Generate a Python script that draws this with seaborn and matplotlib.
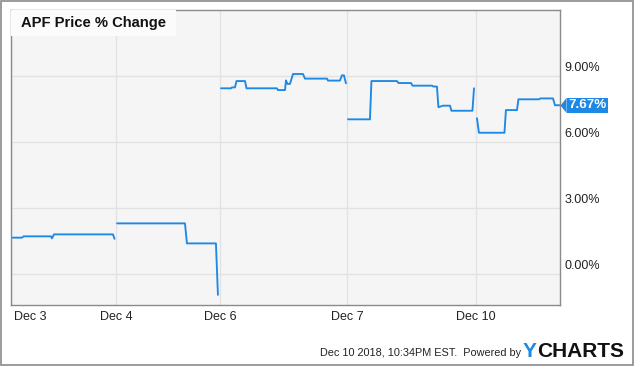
import numpy as np
import pandas as pd
import matplotlib.pyplot as plt
import seaborn as sns
from matplotlib.patches import Rectangle
from matplotlib.transforms import ScaledTranslation

# ── data: x in trading-session units (0 = Dec 3 open), y in % change ──
dec3_x = [0.000, 0.105, 0.119, 0.381, 0.390, 0.410, 0.971, 0.986]
dec3_y = [1.65, 1.65, 1.71, 1.71, 1.62, 1.80, 1.80, 1.60]

dec4_x = [1.010, 1.657, 1.676, 1.952, 1.971]
dec4_y = [2.30, 2.30, 1.39, 1.39, -0.95]

dec6_x = [2.000, 2.095, 2.105, 2.133, 2.148, 2.229, 2.243, 2.533, 2.543, 2.610,
          2.619, 2.633, 2.657, 2.686, 2.781, 2.800, 3.010, 3.019, 3.133, 3.152,
          3.171, 3.190]
dec6_y = [8.44, 8.44, 8.48, 8.48, 8.77, 8.77, 8.44, 8.44, 8.36, 8.36,
          8.80, 8.64, 8.64, 9.09, 9.09, 8.88, 8.88, 8.79, 8.79, 9.03,
          9.03, 8.67]

dec7_x = [3.210, 3.419, 3.433, 3.676, 3.690, 3.810, 3.824, 4.010, 4.024, 4.057,
          4.071, 4.114, 4.181, 4.195, 4.395, 4.410]
dec7_y = [7.03, 7.03, 8.77, 8.77, 8.68, 8.68, 8.56, 8.56, 8.52, 8.52,
          7.58, 7.65, 7.65, 7.42, 7.42, 8.44]

dec10_x = [4.438, 4.457, 4.700, 4.714, 4.819, 4.833, 5.029, 5.043, 5.162, 5.181, 5.229]
dec10_y = [7.08, 6.42, 6.42, 7.45, 7.45, 7.94, 7.94, 7.98, 7.98, 7.67, 7.67]

tick_pos = [0.0, 1.0, 1.99, 3.2, 4.429]
tick_labels = ["Dec 3", "Dec 4", "Dec 6", "Dec 7", "Dec 10"]
y_ticks = [0, 3, 6, 9]

sessions = [("Dec 3", dec3_x, dec3_y), ("Dec 4", dec4_x, dec4_y),
            ("Dec 6", dec6_x, dec6_y), ("Dec 7", dec7_x, dec7_y),
            ("Dec 10", dec10_x, dec10_y)]
df = pd.concat([pd.DataFrame({"session": s, "x": xs, "pct": ys})
                for s, xs, ys in sessions], ignore_index=True)

blue = "#1e88e5"

sns.set_style("white")
plt.rcParams["font.family"] = ["Liberation Sans", "DejaVu Sans"]

fig = plt.figure(figsize=(6.35, 3.66), dpi=100)
ax = fig.add_axes([0.0173, 0.1667, 0.8646, 0.806])
ax.set_facecolor("#f5f5f5")

sns.lineplot(data=df, x="x", y="pct", units="session", estimator=None,
             sort=False, color=blue, linewidth=1.35, ax=ax)

ax.set_xlim(0, df["x"].max())
ax.set_ylim(-1.41, 12.0)
ax.set_xlabel("")
ax.set_ylabel("")

# grid + frame
ax.set_xticks(tick_pos)
ax.set_xticklabels(tick_labels, fontsize=9, color="#222222")
ax.set_yticks(y_ticks)
ax.set_yticklabels([f"{v:.2f}%" for v in y_ticks], fontsize=9, color="#222222")
ax.yaxis.tick_right()
ax.tick_params(axis="both", length=0)
ax.tick_params(axis="x", pad=4)
ax.tick_params(axis="y", pad=3.5)
ax.grid(True, color="#e2e2e2", linewidth=1)
for sp in ax.spines.values():
    sp.set_visible(True)
    sp.set_color("#8a8a8a")
    sp.set_linewidth(1)

# first date label sits just inside the left edge
first = ax.get_xticklabels()[0]
first.set_ha("left")
first.set_transform(first.get_transform() + ScaledTranslation(2.2 / 72, 0, fig.dpi_scale_trans))
# y labels sit a bit above their gridlines
up = ScaledTranslation(0, 7 / 72, fig.dpi_scale_trans)
for lab in ax.get_yticklabels():
    lab.set_transform(lab.get_transform() + up)

# title box
ax.add_patch(Rectangle((0, 0.912), 0.30, 0.088, transform=ax.transAxes,
                       facecolor="#fbfbfb", edgecolor="none", zorder=3))
ax.text(0.018, 0.956, "APF Price % Change", transform=ax.transAxes,
        fontsize=10.6, fontweight="bold", color="#111111",
        ha="left", va="center", zorder=4)

# last value tag
x_end = df["x"].iloc[-1]
last = df["pct"].iloc[-1]
ax.plot([x_end], [last], marker=[(0, 0), (0.8, 1), (0.8, -1)], ms=11,
        color=blue, markeredgewidth=0, clip_on=False, zorder=5)
ax.annotate(f"{last:.2f}%", xy=(x_end, last), xytext=(6, 0),
            textcoords="offset points", ha="left", va="center",
            color="white", fontweight="bold", fontsize=9.6,
            bbox=dict(boxstyle="square,pad=0.1", fc=blue, ec="none"),
            annotation_clip=False, zorder=5)

# footer
fig.text(0.504, 0.026, "Dec 10 2018, 10:34PM EST.  Powered by",
         fontsize=7.8, color="#222222", ha="left", va="baseline")
fig.text(0.8236, 0.024, "Y", fontsize=15, fontweight="heavy", color=blue,
         ha="left", va="baseline")
fig.text(0.8457, 0.024, "CHARTS", fontsize=15, fontweight="heavy",
         color="#111111", ha="left", va="baseline")

# outer frame
fig.patches.append(Rectangle((0.001, 0.0015), 0.996, 0.996, transform=fig.transFigure,
                             fill=False, edgecolor="#8a8a8a", linewidth=1.2))

fig.savefig("out.png", dpi=100)
